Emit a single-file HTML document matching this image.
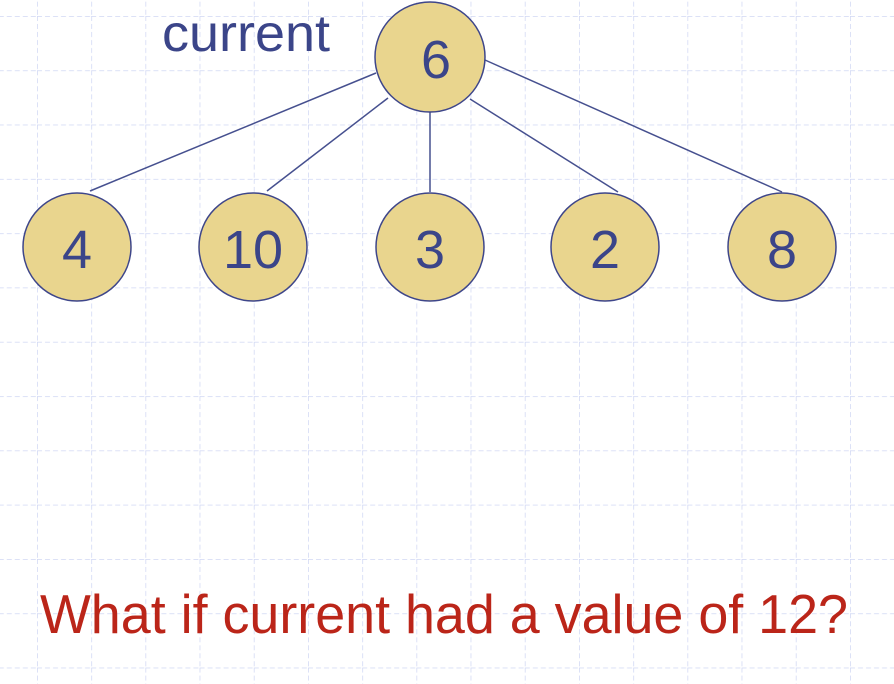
<!DOCTYPE html>
<html><head><style>html,body{margin:0;padding:0;background:#fff}svg{display:block}</style></head>
<body>
<svg width="894" height="684" viewBox="0 0 894 684" xmlns="http://www.w3.org/2000/svg">
<defs>
<pattern id="g" x="37" y="16" width="54.2" height="54.3" patternUnits="userSpaceOnUse">
<path d="M0 0 V54.3 M0 0 H54.2" stroke="#d0d7f4" stroke-width="1.5" stroke-dasharray="5 3" fill="none"/>
</pattern>
</defs>
<rect width="894" height="684" fill="#fff"/>
<rect width="894" height="684" fill="url(#g)"/>
<g stroke="#46508f" stroke-width="1.5">
<line x1="376" y1="73" x2="90" y2="191"/>
<line x1="388" y1="98" x2="267" y2="191"/>
<line x1="430" y1="112" x2="430" y2="192"/>
<line x1="470" y1="99" x2="618" y2="192"/>
<line x1="485" y1="60" x2="782" y2="192"/>
</g>
<g fill="#e9d58e" stroke="#3e468a" stroke-width="1.5">
<circle cx="430" cy="57" r="55"/>
<circle cx="77" cy="247" r="54"/>
<circle cx="253" cy="247" r="54"/>
<circle cx="430" cy="247" r="54"/>
<circle cx="605" cy="247" r="54"/>
<circle cx="782" cy="247" r="54"/>
</g>
<g font-family="Liberation Sans, sans-serif" fill="#3b4589" text-anchor="middle" font-size="54">
<text x="436" y="78">6</text>
<text x="77" y="268">4</text>
<text x="253" y="268">10</text>
<text x="430" y="268">3</text>
<text x="605" y="268">2</text>
<text x="782" y="268">8</text>
</g>
<text x="162" y="51" font-family="Liberation Sans, sans-serif" font-size="52" fill="#3b4589" textLength="168" lengthAdjust="spacingAndGlyphs">current</text>
<text x="40" y="633" font-family="Liberation Sans, sans-serif" font-size="55" fill="#bb2519" textLength="808" lengthAdjust="spacingAndGlyphs">What if current had a value of 12?</text>
</svg>
</body></html>
